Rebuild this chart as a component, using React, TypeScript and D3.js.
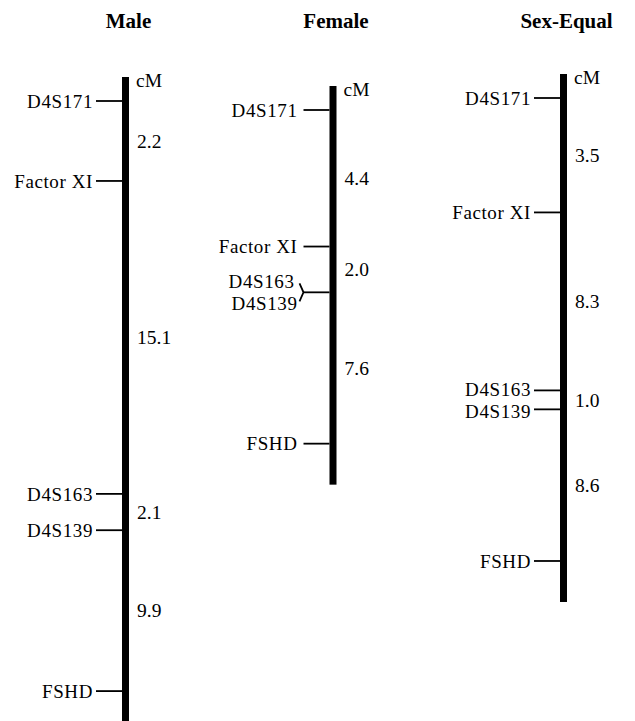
import React from "react";
import * as d3 from "d3";

// marker order and interval lengths (cM) for each map
const titles = ["Male", "Female", "Sex-Equal"];
const maleMarkers = ["D4S171", "Factor XI", "D4S163", "D4S139", "FSHD"];
const maleIntervals = [2.2, 15.1, 2.1, 9.9];
const femaleMarkers = ["D4S171", "Factor XI", "D4S163", "D4S139", "FSHD"];
const femaleIntervals = [4.4, 2.0, 0, 7.6];
const equalMarkers = ["D4S171", "Factor XI", "D4S163", "D4S139", "FSHD"];
const equalIntervals = [3.5, 8.3, 1.0, 8.6];

const width = 635;
const height = 721;
const font = "Liberation Serif, DejaVu Serif, serif";

// layout for each panel
const barX = [125.5, 333, 563.5];
const firstY = [101, 110, 98];
const labelGap = [3, 6, 3];

const tickLen = 26;
const barWidth = 7;
const minLabelSpace = 22;

function MapPanel({ title, markers, intervals, cx, y0, gap }) {
  // the figure is drawn compressed, not strictly to scale
  const y = d3.scalePow().exponent(0.772).domain([0, 1]).range([0, 43.5]);

  const cum = [0, ...d3.cumsum(intervals)];
  const ys = cum.map((c) => y0 + y(c));
  const top = y0 - 24;
  const bottom = ys[ys.length - 1] + 41;
  const barLeft = cx - barWidth / 2;
  const barRight = cx + barWidth / 2;
  const tickX = barLeft - tickLen;

  // spread labels of close (but not identical) markers a little
  const labelY = ys.slice();
  for (let k = 0; k < ys.length - 1; k++) {
    const d = ys[k + 1] - ys[k];
    if (d > 0 && d < minLabelSpace) {
      const push = (minLabelSpace - d) / 2;
      labelY[k] -= push;
      labelY[k + 1] += push;
    }
  }

  const items = [];
  let i = 0;
  while (i < markers.length) {
    if (i + 1 < markers.length && intervals[i] === 0) {
      // two markers on the same spot: bracket
      const yy = ys[i];
      items.push(
        <g key={i}>
          <line x1={tickX} x2={barLeft} y1={yy} y2={yy} stroke="#000" strokeWidth={1.8} />
          <path
            d={`M${tickX - 4},${yy - 9} L${tickX},${yy} L${tickX - 4},${yy + 9}`}
            fill="none"
            stroke="#000"
            strokeWidth={1.8}
          />
          <text x={tickX - 9} y={yy - 11} dy="0.35em" textAnchor="end">
            {markers[i]}
          </text>
          <text x={tickX - 6} y={yy + 11} dy="0.35em" textAnchor="end">
            {markers[i + 1]}
          </text>
        </g>
      );
      i += 2;
    } else {
      const yy = ys[i];
      items.push(
        <g key={i}>
          <line x1={tickX} x2={barLeft} y1={yy} y2={yy} stroke="#000" strokeWidth={1.8} />
          <text x={tickX - gap} y={labelY[i]} dy="0.35em" textAnchor="end">
            {markers[i]}
          </text>
        </g>
      );
      i += 1;
    }
  }

  return (
    <g style={{ fontFamily: font }} fontSize={19.5} fill="#000">
      <text x={cx + 3} y={28} textAnchor="middle" fontWeight="bold" fontSize={21}>
        {title}
      </text>
      <rect x={barLeft} y={top} width={barWidth} height={bottom - top} fill="#000" />
      <text x={barRight + 7} y={top + 3} dy="0.35em">
        cM
      </text>
      <g fontSize={19} letterSpacing={0.6}>
        {items}
      </g>
      {intervals.map((d, k) =>
        d > 0 ? (
          <text key={k} x={barRight + 8} y={(ys[k] + ys[k + 1]) / 2} dy="0.35em">
            {d.toFixed(1)}
          </text>
        ) : null
      )}
    </g>
  );
}

export default function App() {
  const markerSets = [maleMarkers, femaleMarkers, equalMarkers];
  const intervalSets = [maleIntervals, femaleIntervals, equalIntervals];
  return (
    <svg
      width={width}
      height={height}
      style={{ position: "absolute", left: 0, top: 0, background: "#fff" }}
    >
      {titles.map((t, i) => (
        <MapPanel
          key={t}
          title={t}
          markers={markerSets[i]}
          intervals={intervalSets[i]}
          cx={barX[i]}
          y0={firstY[i]}
          gap={labelGap[i]}
        />
      ))}
    </svg>
  );
}
